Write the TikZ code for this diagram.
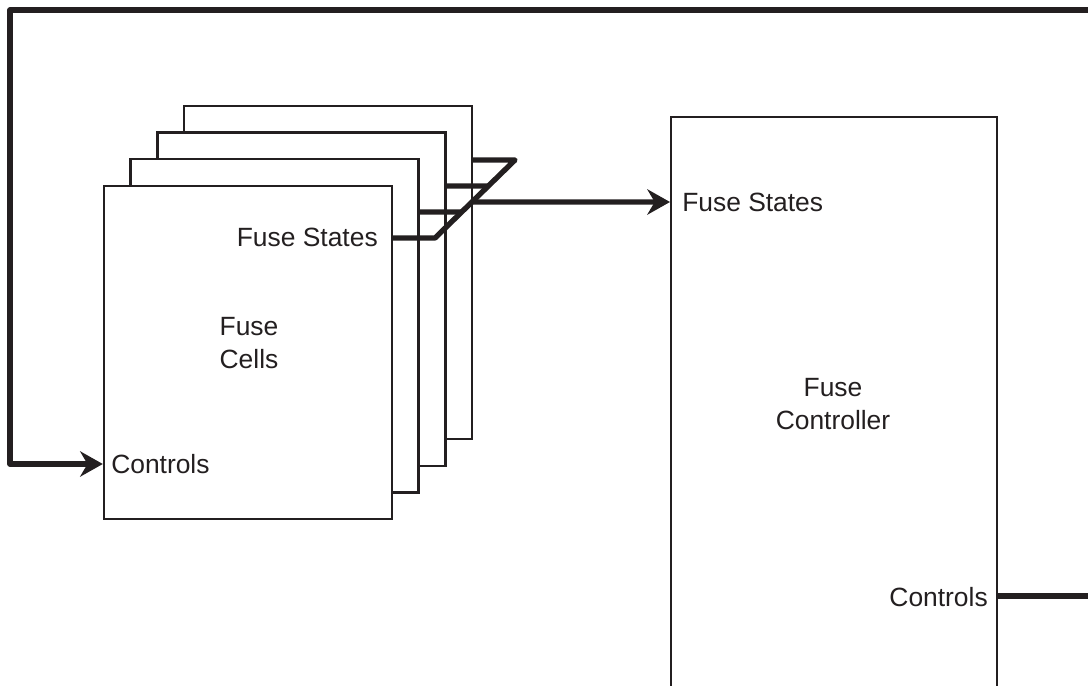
\documentclass[tikz,border=0pt]{standalone}
\usepackage{fontspec}
\setmainfont{Liberation Sans}
\usetikzlibrary{arrows.meta,calc}
\definecolor{ink}{HTML}{231F20}
\tikzset{
  cellbox/.style={draw=ink, fill=white, line width=1.8pt, minimum width=216pt, minimum height=250pt, inner sep=0pt},
  ctrlbox/.style={draw=ink, fill=white, line width=1.8pt, minimum width=244.5pt, minimum height=450pt, inner sep=0pt, anchor=north west},
  thickline/.style={draw=ink, line width=4pt, line join=round},
  arrowline/.style={thickline, -{Stealth[length=17pt,width=19pt,inset=5.5pt]}},
  lbl/.style={text=ink, font=\fontsize{19.8}{24.5}\selectfont, inner sep=0pt, align=center}
}
\begin{document}
\begin{tikzpicture}[x=0.75pt,y=-0.75pt]
\useasboundingbox (0,0) rectangle (1088,685);
\clip (0,0) rectangle (1088,685);
% stacked fuse cells, back to front
\node[cellbox] (c4) at (328,272.5) {};
\node[cellbox] (c3) at (301.33,299.17) {};
\node[cellbox] (c2) at (274.67,325.83) {};
\node[cellbox] (c1) at (248,352.5) {};
% controller
\node[ctrlbox] (ctrl) at (670,116) {};
% labels
\node[lbl, anchor=east] (fs1) at (378,237) {Fuse States};
\node[lbl] (cells) at (249,343) {Fuse\\Cells};
\node[lbl, anchor=west] (ctl1) at (111,464) {Controls};
\node[lbl, anchor=west] (fs2) at (682,202) {Fuse States};
\node[lbl] (fc) at (833,404) {Fuse\\Controller};
\node[lbl, anchor=east] (ctl2) at (988,597) {Controls};
% bus coordinates
\coordinate (yA) at (0,238);
\coordinate (yB) at (0,212);
\coordinate (yC) at (0,186);
\coordinate (yD) at (0,160);
\coordinate (yOut) at (0,202);
\coordinate (bA) at (435,238);
\coordinate (bB) at (515,160);
\coordinate (yCtl) at (0,596);
\coordinate (yTop) at (0,10);
\coordinate (yIn) at (0,464);
\coordinate (xL) at (10,0);
\coordinate (xR) at (1110,0);
% bus
\draw[thickline] (c1.east |- yA) -- (bA) -- (bB) -- (c4.east |- yD);
\draw[thickline] (c2.east |- yB) -- ($(bA)!0.3333!(bB)$);
\draw[thickline] (c3.east |- yC) -- ($(bA)!0.6667!(bB)$);
\draw[arrowline] ($(bA)!0.4615!(bB)$) -- (ctrl.west |- yOut);
% feedback loop
\draw[arrowline] (ctrl.east |- yCtl) -- (xR |- yCtl) -- (xR |- yTop) -- (xL |- yTop) -- (xL |- yIn) -- (c1.west |- yIn);
\end{tikzpicture}
\end{document}
